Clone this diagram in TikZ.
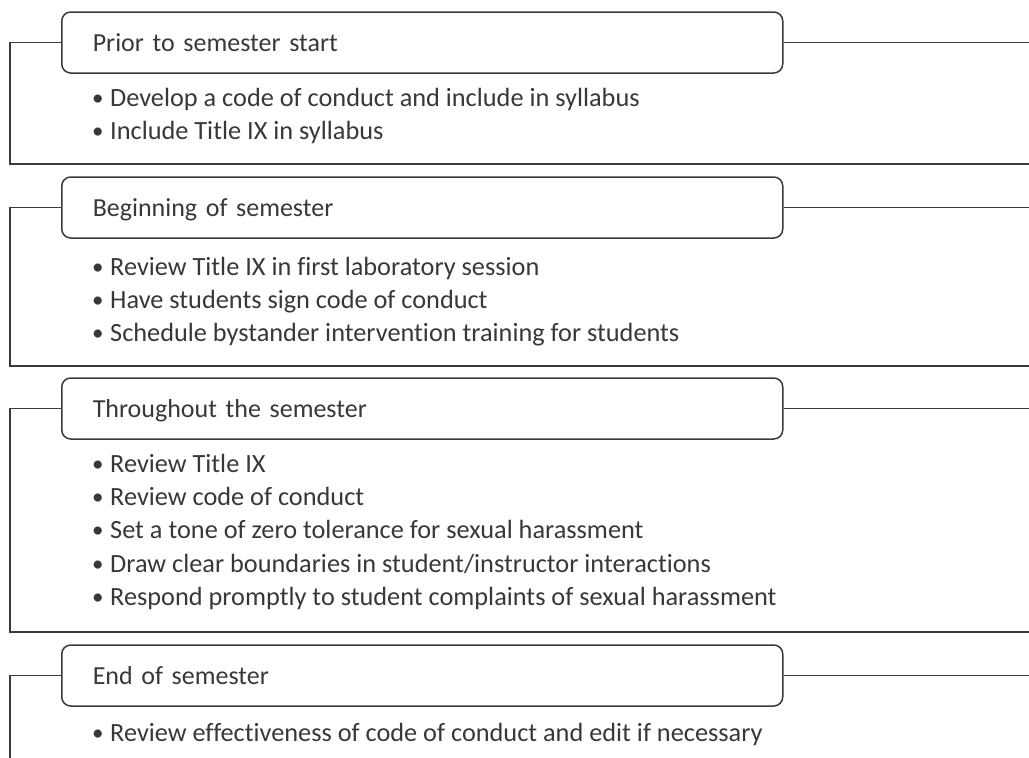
\documentclass[tikz,border=0pt]{standalone}
\usepackage{fontspec}
\setmainfont{Carlito}[Ligatures={NoCommon}]
\definecolor{ln}{HTML}{3A3A3A}
\definecolor{tx}{HTML}{383838}
\newcommand{\bul}{\makebox[18pt][l]{\raisebox{0.5pt}{\fontsize{23}{23}\selectfont •}}}
\begin{document}
\begin{tikzpicture}[x=1pt,y=-1pt,
  hdr/.style={draw=ln, line width=1.5pt, rounded corners=9pt, minimum width=721pt,
    minimum height=61pt, text width=659pt, inner xsep=31pt, inner ysep=0pt,
    align=left, anchor=west, text height=17pt, text depth=0pt,
    font=\fontsize{26}{30}\selectfont, text=tx},
  itm/.style={anchor=base west, inner sep=0pt, font=\fontsize{26.3}{30}\selectfont, text=tx},
  conn/.style={draw=ln, line width=1.5pt}]
\useasboundingbox (0,0) rectangle (1029,758);

% ---- Box 1
\node[hdr] (h1) at (61,42.5) {Prior to semester start};
\coordinate (l1) at (10,42.5); \coordinate (r1) at (1029,42.5);
\coordinate (b1) at (10,164); \coordinate (e1) at (1029,164);
\draw[conn] (h1.east) -- (r1);
\draw[conn] (h1.west) -- (l1) -- (b1) -- (e1);
\node[itm] (i11) at (92,106) {\bul Develop a code of conduct and include in syllabus};
\node[itm] (i12) at (92,139) {\bul Include Title IX in syllabus};

% ---- Box 2
\node[hdr] (h2) at (61,207.5) {Beginning of semester};
\coordinate (l2) at (10,207.5); \coordinate (r2) at (1029,207.5);
\coordinate (b2) at (10,366); \coordinate (e2) at (1029,366);
\draw[conn] (h2.east) -- (r2);
\draw[conn] (h2.west) -- (l2) -- (b2) -- (e2);
\node[itm] (i21) at (92,275) {\bul Review Title IX in first laboratory session};
\node[itm] (i22) at (92,308) {\bul Have students sign code of conduct};
\node[itm] (i23) at (92,341) {\bul Schedule bystander intervention training for students};

% ---- Box 3
\node[hdr] (h3) at (61,408.5) {Throughout the semester};
\coordinate (l3) at (10,408.5); \coordinate (r3) at (1029,408.5);
\coordinate (b3) at (10,632); \coordinate (e3) at (1029,632);
\draw[conn] (h3.east) -- (r3);
\draw[conn] (h3.west) -- (l3) -- (b3) -- (e3);
\node[itm] (i31) at (92,472) {\bul Review Title IX};
\node[itm] (i32) at (92,505) {\bul Review code of conduct};
\node[itm] (i33) at (92,538) {\bul Set a tone of zero tolerance for sexual harassment};
\node[itm] (i34) at (92,572) {\bul Draw clear boundaries in student/instructor interactions};
\node[itm] (i35) at (92,605) {\bul Respond promptly to student complaints of sexual harassment};

% ---- Box 4
\node[hdr] (h4) at (61,675.5) {End of semester};
\coordinate (l4) at (10,675.5); \coordinate (r4) at (1029,675.5);
\coordinate (b4) at (10,758);
\draw[conn] (h4.east) -- (r4);
\draw[conn] (h4.west) -- (l4) -- (b4);
\node[itm] (i41) at (92,741) {\bul Review effectiveness of code of conduct and edit if necessary};
\end{tikzpicture}
\end{document}
